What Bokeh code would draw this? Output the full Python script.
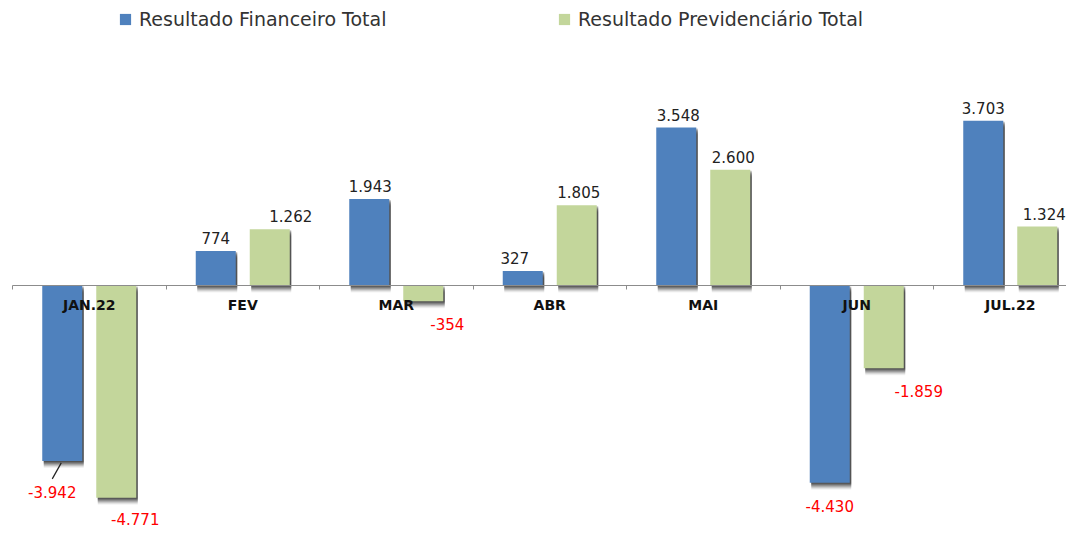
from bokeh.plotting import figure
from bokeh.models import (ColumnDataSource, Range1d, LinearAxis, FixedTicker,
                          Legend, LegendItem)
from bokeh.embed import file_html
from bokeh.resources import INLINE
from bokeh.core.properties import value

# ---------------- data ----------------
months = ["JAN.22", "FEV", "MAR", "ABR", "MAI", "JUN", "JUL.22"]
financeiro = [-3942, 774, 1943, 327, 3548, -4430, 3703]
previdenciario = [-4771, 1262, -354, 1805, 2600, -1859, 1324]
series_names = ["Resultado Financeiro Total", "Resultado Previdenciário Total"]

# ---------------- style / layout ----------------
W, H = 1066, 528
CAT_PX = 153.5
ZERO_PX = 285
UPP = 1 / 0.0445                # data units per pixel (y)
Y1 = ZERO_PX * UPP
Y0 = -(H - ZERO_PX) * UPP
X0, X1 = -12 / CAT_PX, (W - 12) / CAT_PX
BLUE, GREEN = "#4F81BD", "#C3D69B"
BAR_W = 40 / CAT_PX
OFF = 27 / CAT_PX
FONT = "DejaVu Sans"

# label nudges (pixels)
fin_dx = [-10, 0, 1, -8, 2, 0, 0]
fin_extra_dy = [8, 0, 0, 0, 0, 0, 0]
prev_dx = [19, 21, 24, 2, 3, 35, 7]
prev_extra_dy = [-2, 0, 0, 0, 0, 0, 0]
fin_leader = [True, False, False, False, False, False, False]


def fmt(v):
    return f"{v:,}".replace(",", ".")


centers = [i + 0.5 for i in range(len(months))]
bounds = [float(i) for i in range(len(months) + 1)]

p = figure(width=W, height=H, x_range=Range1d(X0, X1), y_range=Range1d(Y0, Y1),
           output_backend="svg", toolbar_location=None,
           x_axis_location=None, y_axis_location=None,
           min_border=0, outline_line_color=None)
p.grid.grid_line_color = None
p.background_fill_color = "white"
p.border_fill_color = "white"

renderers = []
for vals, off, color in ((financeiro, -OFF, BLUE), (previdenciario, OFF, GREEN)):
    xs = [c + off for c in centers]
    # soft drop shadow (layered)
    for d, a in ((1, 0.22), (2, 0.2), (3, 0.18), (4, 0.15), (5, 0.12), (6, 0.08), (7, 0.05)):
        sh = ColumnDataSource(dict(
            x=[x + 1.5 / CAT_PX for x in xs],
            top=[max(v, 0) - d * UPP for v in vals],
            bottom=[min(v, 0) - d * UPP for v in vals]))
        p.vbar(x="x", top="top", bottom="bottom", width=BAR_W, source=sh,
               fill_color="black", fill_alpha=a, line_color=None)
    src = ColumnDataSource(dict(x=xs, top=vals, bottom=[0] * len(vals)))
    r = p.vbar(x="x", top="top", bottom="bottom", width=BAR_W, source=src,
               fill_color=color, line_color=None)
    renderers.append(r)

# value labels
for vals, off, dxs, edys in ((financeiro, -OFF, fin_dx, fin_extra_dy),
                             (previdenciario, OFF, prev_dx, prev_extra_dy)):
    lab = ColumnDataSource(dict(
        x=[c + off for c in centers], y=vals, text=[fmt(v) for v in vals],
        dx=dxs,
        dy=[(-13 if v >= 0 else 23) + e for v, e in zip(vals, edys)],
        color=["#222222" if v >= 0 else "#FF0000" for v in vals]))
    p.text(x="x", y="y", text="text", x_offset="dx", y_offset="dy", source=lab,
           text_color="color", text_align="center", text_baseline="alphabetic",
           text_font=value(FONT), text_font_size="15px")

# leader line(s)
lx0, ly0, lx1, ly1 = [], [], [], []
for c, v, lead in zip(centers, financeiro, fin_leader):
    if lead:
        x = c - OFF
        lx0.append(x - 1 / CAT_PX)
        ly0.append(v - 2 * UPP)
        lx1.append(x - 10 / CAT_PX)
        ly1.append(v - 18 * UPP)
p.segment(x0=lx0, y0=ly0, x1=lx1, y1=ly1, line_color="#222222", line_width=1.2)

# category axis sitting on zero
ax = LinearAxis(fixed_location=0,
                ticker=FixedTicker(ticks=centers, minor_ticks=bounds),
                major_label_overrides={c: m for c, m in zip(centers, months)},
                bounds=(0, len(months)))
ax.axis_line_color = "#8C8C8C"
ax.axis_line_width = 1.2
ax.major_tick_line_color = None
ax.major_tick_out = 0
ax.major_tick_in = 0
ax.minor_tick_line_color = "#8C8C8C"
ax.minor_tick_out = 4
ax.minor_tick_in = 0
ax.major_label_standoff = 7
ax.major_label_text_font = FONT
ax.major_label_text_font_size = "14px"
ax.major_label_text_font_style = "bold"
ax.major_label_text_color = "#111111"
p.add_layout(ax, "below")

# legends
for r, name, loc in ((renderers[0], series_names[0], (118, 498)),
                     (renderers[1], series_names[1], (557, 498))):
    leg = Legend(items=[LegendItem(label=name, renderers=[r])], location=loc,
                 glyph_width=14, glyph_height=14, label_standoff=7,
                 padding=0, margin=0, border_line_color=None,
                 background_fill_alpha=0, label_text_font=FONT,
                 label_text_font_size="19px", label_text_color="#333333")
    p.add_layout(leg)

open("out.html", "w").write(file_html(p, INLINE))
